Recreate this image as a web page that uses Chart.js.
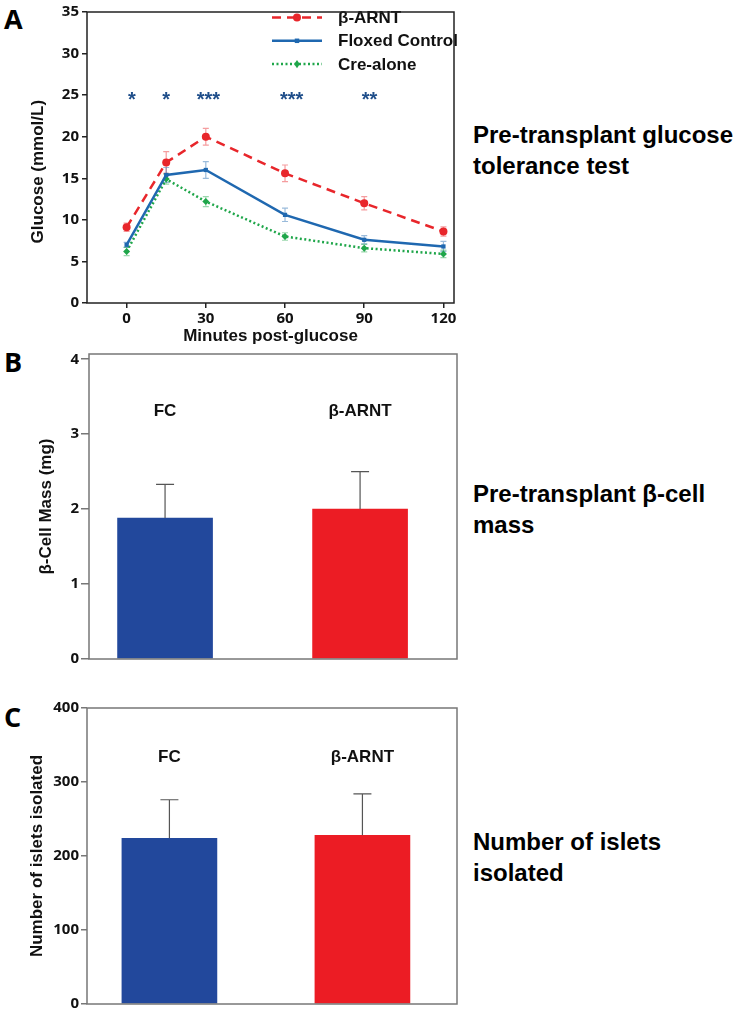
<!DOCTYPE html>
<html>
<head>
<meta charset="utf-8">
<script src="https://cdn.jsdelivr.net/npm/chart.js@4.4.0/dist/chart.umd.min.js"></script>
<style>
  body { margin: 0; background: #fff; width: 746px; height: 1015px; position: relative; overflow: hidden; }
  canvas { position: absolute; left: 0; }
  .letter { position: absolute; left: 4px; font-family: 'Open Sans', sans-serif; font-weight: 700; font-size: 27px; line-height: 27px; color: #000; }
  .note { position: absolute; left: 473px; font-family: 'Liberation Sans', Arial, sans-serif; font-weight: 700; font-size: 24px; line-height: 31px; color: #000; white-space: nowrap; }
</style>
</head>
<body>
<div class="letter" style="top:5px">A</div>
<div class="letter" style="top:348px">B</div>
<div class="letter" style="top:703px">C</div>

<canvas id="gttChart" width="470" height="351" style="top:0px"></canvas>
<canvas id="massChart" width="470" height="330" style="top:340px"></canvas>
<canvas id="isletChart" width="470" height="325" style="top:690px"></canvas>

<div class="note" style="top:119px">Pre-transplant glucose<br>tolerance test</div>
<div class="note" style="top:478px">Pre-transplant β-cell<br>mass</div>
<div class="note" style="top:826px">Number of islets<br>isolated</div>

<script>
// panel A - glucose tolerance test
const minutes = [0, 15, 30, 60, 90, 120];
const xTickMinutes = [0, 30, 60, 90, 120];
const arntGlucose = [9.1, 16.9, 20.0, 15.6, 12.0, 8.6];
const arntSem = [0.5, 1.3, 1.0, 1.0, 0.8, 0.55];
const floxedGlucose = [7.0, 15.4, 16.0, 10.6, 7.6, 6.8];
const floxedSem = [0.3, 0.9, 1.0, 0.8, 0.5, 0.6];
const creGlucose = [6.2, 14.9, 12.2, 8.0, 6.6, 5.9];
const creSem = [0.5, 0.6, 0.6, 0.45, 0.45, 0.45];
const sigMinutes = [2, 15, 31, 62.5, 92];
const sigMarks = ['*', '*', '***', '***', '**'];
const sigLevel = 25;

// panels B and C
const groups = ['FC', 'β-ARNT'];
const cellMass = [1.88, 2.0];
const cellMassSem = [0.45, 0.5];
const isletCount = [224, 228];
const isletCountSem = [52, 56];

const tickFont = { family: '"Open Sans"', weight: 'bold', size: 15 };
const titleFont = { family: '"Liberation Sans"', weight: 'bold', size: 17 };

function pts(xs, ys) {
  return xs.map((v, i) => ({ x: v, y: ys[i] }));
}

// box round the plot area
const frame = {
  id: 'frame',
  afterDraw(chart, args, opts) {
    const { ctx, chartArea: a } = chart;
    ctx.save();
    ctx.strokeStyle = opts.color;
    ctx.lineWidth = opts.width;
    ctx.strokeRect(a.left, a.top, a.right - a.left, a.bottom - a.top);
    ctx.restore();
  }
};

function marker(ctx, style, r, x, y) {
  ctx.beginPath();
  if (style === 'circle') {
    ctx.arc(x, y, r, 0, Math.PI * 2);
  } else if (style === 'rect') {
    ctx.rect(x - r * 0.75, y - r * 0.75, r * 1.5, r * 1.5);
  } else {
    ctx.moveTo(x, y - r * 1.2);
    ctx.lineTo(x + r * 0.8, y);
    ctx.lineTo(x, y + r * 1.2);
    ctx.lineTo(x - r * 0.8, y);
    ctx.closePath();
  }
  ctx.fill();
}

// sem whiskers, legend and stars for panel A
const gttExtras = {
  id: 'gttExtras',
  beforeDatasetsDraw(chart) {
    const { ctx, scales: { x, y } } = chart;
    chart.data.datasets.forEach(ds => {
      ctx.save();
      ctx.strokeStyle = ds.semColor;
      ctx.lineWidth = 1.2;
      ds.data.forEach((p, i) => {
        const px = x.getPixelForValue(p.x);
        const top = y.getPixelForValue(p.y + ds.sem[i]);
        const bot = y.getPixelForValue(p.y - ds.sem[i]);
        ctx.beginPath();
        ctx.moveTo(px, top); ctx.lineTo(px, bot);
        ctx.moveTo(px - 3, top); ctx.lineTo(px + 3, top);
        ctx.moveTo(px - 3, bot); ctx.lineTo(px + 3, bot);
        ctx.stroke();
      });
      ctx.restore();
    });
  },
  afterDatasetsDraw(chart) {
    const { ctx, scales: { x, y } } = chart;
    ctx.save();
    chart.data.datasets.forEach((ds, i) => {
      const yy = 17.5 + i * 23.3;
      ctx.strokeStyle = ds.borderColor;
      ctx.lineWidth = ds.borderWidth;
      ctx.setLineDash(ds.borderDash || []);
      ctx.beginPath();
      ctx.moveTo(272, yy); ctx.lineTo(322, yy);
      ctx.stroke();
      ctx.setLineDash([]);
      ctx.fillStyle = ds.pointBackgroundColor;
      marker(ctx, ds.pointStyle, ds.pointRadius, 297, yy);
      ctx.fillStyle = '#111';
      ctx.font = 'bold 17px "Liberation Sans"';
      ctx.textAlign = 'left';
      ctx.textBaseline = 'middle';
      ctx.fillText(ds.label, 338, yy + 1);
    });
    ctx.font = 'bold 20px "Liberation Sans"';
    ctx.fillStyle = '#1f4e8a';
    ctx.textAlign = 'center';
    ctx.textBaseline = 'alphabetic';
    sigMinutes.forEach((m, i) => {
      ctx.fillText(sigMarks[i], x.getPixelForValue(m), y.getPixelForValue(sigLevel) + 11);
    });
    ctx.restore();
  }
};

function lineSet(label, vals, sem, color, semColor, dash, style, r) {
  return {
    label: label,
    data: pts(minutes, vals),
    sem: sem,
    semColor: semColor,
    borderColor: color,
    backgroundColor: color,
    borderWidth: 2.5,
    borderDash: dash,
    pointStyle: style,
    pointRadius: r,
    pointBackgroundColor: color,
    pointBorderWidth: 0,
    tension: 0
  };
}

new Chart(document.getElementById('gttChart'), {
  type: 'line',
  data: {
    datasets: [
      lineSet('β-ARNT', arntGlucose, arntSem, '#e8262b', 'rgba(232,38,43,0.45)', [9, 6], 'circle', 4),
      lineSet('Floxed Control', floxedGlucose, floxedSem, '#1f68b0', 'rgba(31,104,176,0.45)', [], 'rect', 3),
      lineSet('Cre-alone', creGlucose, creSem, '#1fa64a', 'rgba(31,166,74,0.45)', [2, 2.5], 'rectRot', 3.5)
    ]
  },
  plugins: [gttExtras, frame],
  options: {
    responsive: false,
    animation: false,
    layout: { padding: { top: 7, right: 16, bottom: 0, left: 0 } },
    plugins: {
      legend: { display: false },
      tooltip: { enabled: false },
      frame: { color: '#222', width: 1.5 }
    },
    scales: {
      x: {
        type: 'linear',
        min: -15,
        max: 124,
        afterBuildTicks: s => { s.ticks = xTickMinutes.map(v => ({ value: v })); },
        afterFit: s => { s.height = 48; },
        ticks: { font: tickFont, color: '#111', padding: 2 },
        grid: { drawOnChartArea: false, tickLength: 5, color: '#222', lineWidth: 1.5 },
        border: { display: false },
        title: { display: true, text: 'Minutes post-glucose', font: titleFont, color: '#111', padding: { top: 0, bottom: 4 } }
      },
      y: {
        min: 0,
        max: 35,
        afterFit: s => { s.width = 87; },
        ticks: { stepSize: 5, font: tickFont, color: '#111', padding: 3 },
        grid: { drawOnChartArea: false, tickLength: 5, color: '#222', lineWidth: 1.5 },
        border: { display: false },
        // trailing spaces push the title a little below the axis middle, as in the figure
        title: { display: true, text: 'Glucose (mmol/L)      ', font: titleFont, color: '#111', padding: { top: 28, bottom: 0 } }
      }
    }
  }
});

// bar panels
function barExtras(sem, labelValue) {
  return {
    id: 'barExtras',
    afterDatasetsDraw(chart) {
      const { ctx, scales: { x, y } } = chart;
      const ds = chart.data.datasets[0];
      ctx.save();
      ctx.strokeStyle = '#555';
      ctx.lineWidth = 1.2;
      ds.data.forEach((p, i) => {
        const px = x.getPixelForValue(p.x);
        const top = y.getPixelForValue(p.y + sem[i]);
        const base = y.getPixelForValue(p.y);
        ctx.beginPath();
        ctx.moveTo(px, base); ctx.lineTo(px, top);
        ctx.moveTo(px - 9, top); ctx.lineTo(px + 9, top);
        ctx.stroke();
      });
      ctx.fillStyle = '#111';
      ctx.font = 'bold 17px "Liberation Sans"';
      ctx.textAlign = 'center';
      ctx.textBaseline = 'middle';
      groups.forEach((g, i) => {
        ctx.fillText(g, x.getPixelForValue(i), y.getPixelForValue(labelValue));
      });
      ctx.restore();
    }
  };
}

function barChart(id, vals, sem, opts) {
  return new Chart(document.getElementById(id), {
    type: 'bar',
    data: {
      datasets: [{
        data: groups.map((g, i) => ({ x: i, y: vals[i] })),
        backgroundColor: ['#22489c', '#ec1c24'],
        barThickness: 95
      }]
    },
    plugins: [barExtras(sem, opts.labelValue), frame],
    options: {
      responsive: false,
      animation: false,
      layout: { padding: opts.padding },
      plugins: {
        legend: { display: false },
        tooltip: { enabled: false },
        frame: { color: '#777', width: 1.5 }
      },
      scales: {
        x: { type: 'linear', offset: false, min: opts.xMin, max: opts.xMax, display: false },
        y: {
          min: 0,
          max: opts.yMax,
          afterFit: s => { s.width = opts.axisWidth; },
          ticks: { stepSize: opts.step, includeBounds: false, font: tickFont, color: '#111', padding: 2 },
          grid: { drawOnChartArea: false, tickLength: opts.tickLen, color: '#777', lineWidth: 1.5 },
          border: { display: false },
          title: { display: true, text: opts.title, font: titleFont, color: '#111', padding: { top: opts.titlePad, bottom: 0 } }
        }
      }
    }
  });
}

barChart('massChart', cellMass, cellMassSem, {
  padding: { top: 14, right: 13, bottom: 8, left: 0 },
  xMin: -0.39, xMax: 1.497, yMax: 4.07, step: 1,
  axisWidth: 89, tickLen: 8, titlePad: 36,
  title: 'β-Cell Mass (mg)', labelValue: 3.3
});

barChart('isletChart', isletCount, isletCountSem, {
  padding: { top: 18, right: 13, bottom: 10, left: 0 },
  xMin: -0.427, xMax: 1.49, yMax: 400, step: 100,
  axisWidth: 87, tickLen: 6, titlePad: 27,
  title: 'Number of islets isolated', labelValue: 333
});
</script>
</body>
</html>
